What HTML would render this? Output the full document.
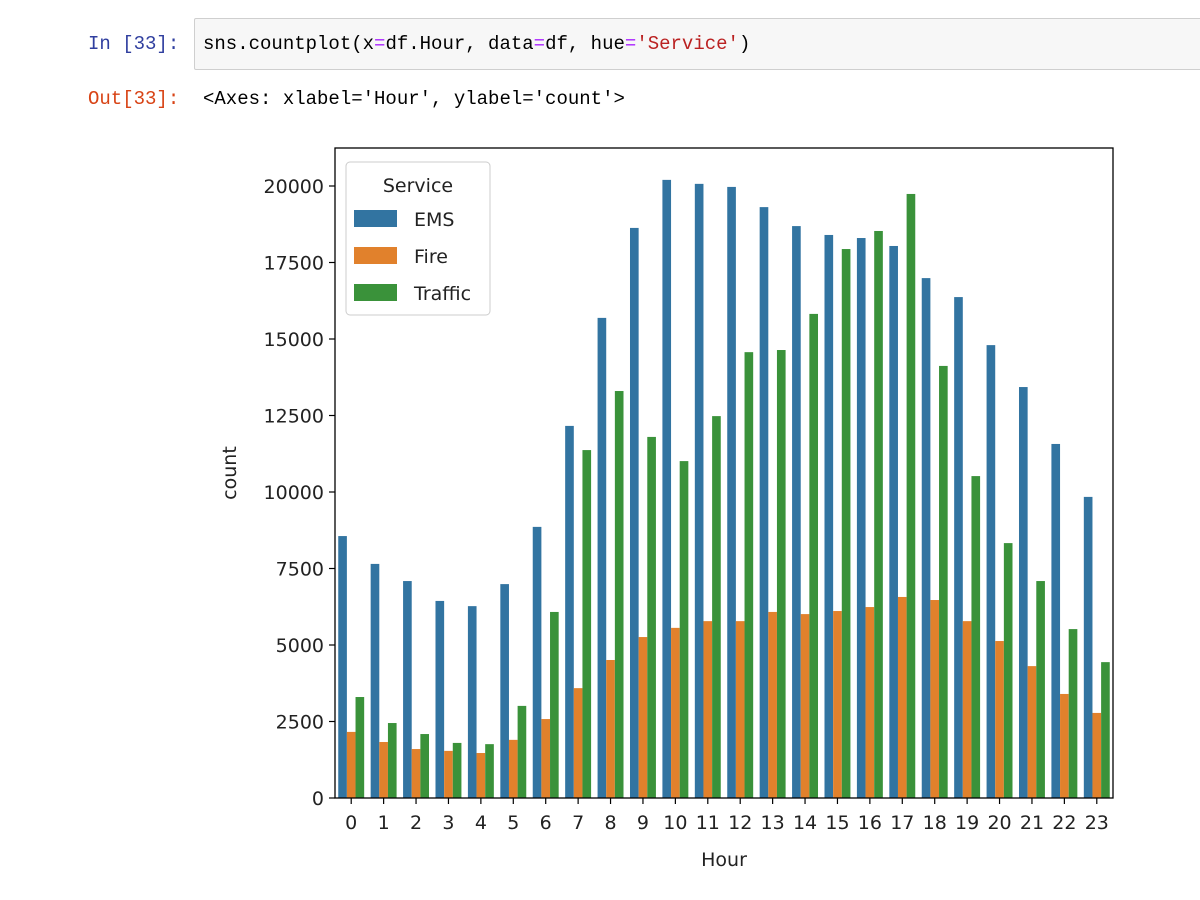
<!DOCTYPE html>
<html><head><meta charset="utf-8"><style>
body{margin:0;width:1200px;height:900px;background:#fff;overflow:hidden;position:relative;font-family:"Liberation Sans",sans-serif}
.mono{font-family:"Liberation Mono",monospace;font-size:19px;position:absolute}
svg text{font-family:"DejaVu Sans","Liberation Sans",sans-serif}
</style></head><body>
<div class="mono" style="left:88px;top:33px;color:#303f9f">In [33]:</div>
<div style="position:absolute;left:194px;top:18px;width:1010px;height:50px;background:#f7f7f7;border:1px solid #cfcfcf;border-radius:2px"></div>
<div class="mono" style="left:203px;top:33px;color:#000">sns.countplot(x<span style="color:#aa22ff">=</span>df.Hour, data<span style="color:#aa22ff">=</span>df, hue<span style="color:#aa22ff">=</span><span style="color:#ba2121">'Service'</span>)</div>
<div class="mono" style="left:88px;top:88px;color:#d84315">Out[33]:</div>
<div class="mono" style="left:203px;top:88px;color:#000">&lt;Axes: xlabel='Hour', ylabel='count'&gt;</div>
<svg id="chart" width="1200" height="900" style="position:absolute;left:0;top:0"></svg>
<script>
const hours=[0,1,2,3,4,5,6,7,8,9,10,11,12,13,14,15,16,17,18,19,20,21,22,23];
const ems=[8560,7650,7090,6440,6270,6990,8860,12160,15690,18630,20200,20070,19970,19310,18690,18400,18300,18040,16990,16370,14800,13430,11570,9840];
const fire=[2160,1830,1600,1540,1470,1900,2580,3590,4510,5260,5560,5780,5780,6080,6010,6110,6240,6570,6470,5780,5130,4310,3400,2780];
const traffic=[3300,2450,2090,1800,1760,3010,6080,11370,13300,11800,11010,12480,14570,14640,15820,17940,18530,19740,14120,10520,8330,7090,5520,4440];
const yTicks=[0,2500,5000,7500,10000,12500,15000,17500,20000];
const seriesNames=['EMS','Fire','Traffic'];
const colors=['#3274a1','#e1812c','#3a923a'];
const L=335,R=1113,T=148,B=798;
const step=(R-L)/hours.length;
const xc=i=>L+step*(i+0.5);
const y=v=>B-v*612/20000;
const svg=document.getElementById('chart');
const NS='http://www.w3.org/2000/svg';
function mk(t,a){const e=document.createElementNS(NS,t);for(const k in a)e.setAttribute(k,a[k]);svg.appendChild(e);return e;}
const bw=step*0.8/3;
[ems,fire,traffic].forEach((s,si)=>{
  s.forEach((v,i)=>{
    const r=mk('rect',{x:xc(i)-step*0.4+si*bw,y:y(v),width:bw,height:B-y(v),fill:colors[si]});
    
    
  });
});
mk('rect',{x:L,y:T,width:R-L,height:B-T,fill:'none',stroke:'#000','stroke-width':1.3});
yTicks.forEach(v=>{
  mk('line',{x1:L-6,x2:L,y1:y(v),y2:y(v),stroke:'#000','stroke-width':1.2});
  const t=mk('text',{x:L-11,y:y(v)+7,'text-anchor':'end','font-size':19,fill:'#222'});
  t.textContent=v;
  
  
});
hours.forEach((h,i)=>{
  mk('line',{x1:xc(i),x2:xc(i),y1:B,y2:B+6,stroke:'#000','stroke-width':1.2});
  const t=mk('text',{x:xc(i),y:B+31,'text-anchor':'middle','font-size':19,fill:'#222'});
  t.textContent=h;
  
  
});
const xl=mk('text',{x:(L+R)/2,y:866,'text-anchor':'middle','font-size':19,fill:'#222'});xl.textContent='Hour';


const yl=mk('text',{x:236,y:473,'text-anchor':'middle','font-size':19,fill:'#222',transform:'rotate(-90 236 473)'});yl.textContent='count';


const lg=mk('rect',{x:346,y:162,width:144,height:153,rx:4,fill:'#fff','fill-opacity':0.8,stroke:'#ccc'});


const lt=mk('text',{x:418,y:192,'text-anchor':'middle','font-size':19,fill:'#222'});lt.textContent='Service';


seriesNames.forEach((n,i)=>{
  const yy=210+i*37;
  mk('rect',{x:354,y:yy,width:43,height:17,fill:colors[i]});
  const t=mk('text',{x:414,y:yy+16,'font-size':19,fill:'#222'});t.textContent=n;
  
  
});
</script>
</body></html>
